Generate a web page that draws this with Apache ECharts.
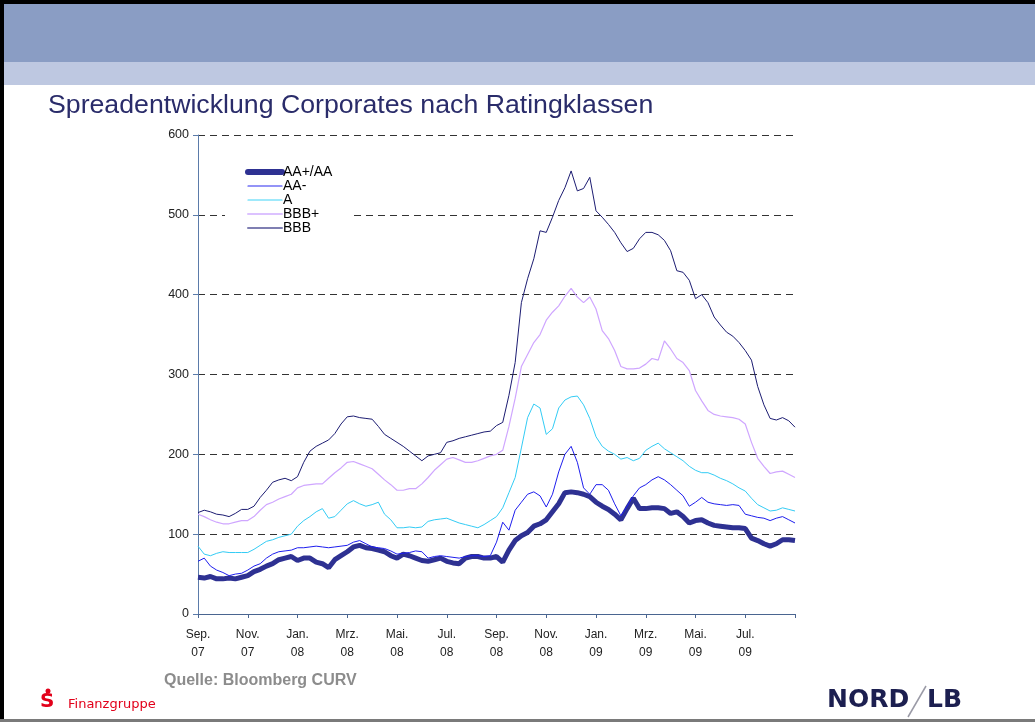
<!DOCTYPE html>
<html>
<head>
<meta charset="utf-8">
<script src="https://cdn.jsdelivr.net/npm/echarts@6/dist/echarts.min.js"></script>
<style>
  html, body { margin: 0; padding: 0; background: #fff; }
  #main { width: 1035px; height: 722px; }
</style>
</head>
<body>
<div id="main"></div>
<script>
// Tick labels, one every two months (last tick has no label)
var tickLabels = ['Sep.\n07', 'Nov.\n07', 'Jan.\n08', 'Mrz.\n08', 'Mai.\n08', 'Jul.\n08',
    'Sep.\n08', 'Nov.\n08', 'Jan.\n09', 'Mrz.\n09', 'Mai.\n09', 'Jul.\n09', ''];

// Months of the period, four observations per month (Sep 07 .. Sep 09)
var months = ['2007-09', '2007-10', '2007-11', '2007-12', '2008-01', '2008-02', '2008-03',
    '2008-04', '2008-05', '2008-06', '2008-07', '2008-08', '2008-09', '2008-10', '2008-11',
    '2008-12', '2009-01', '2009-02', '2009-03', '2009-04', '2009-05', '2009-06', '2009-07',
    '2009-08', '2009-09'];

var legendNames = ['AA+/AA', 'AA-', 'A', 'BBB+', 'BBB'];

// Spreads in basis points
var aaPlus = [46, 45, 47, 44, 44, 45, 44, 46, 48, 53, 56, 60, 63, 68, 70, 72,
    67, 70, 70, 65, 63, 58, 68, 73, 78, 84, 86, 83, 82, 80, 78, 73,
    70, 75, 73, 70, 67, 66, 68, 70, 66, 64, 63, 70, 72, 72, 70, 70,
    72, 65, 80, 92, 98, 102, 110, 113, 118, 128, 138, 152, 153, 152, 150, 147,
    140, 135, 131, 125, 118, 132, 145, 132, 132, 133, 133, 132, 126, 128, 122, 114,
    117, 118, 114, 111, 110, 109, 108, 108, 107, 95, 92, 88, 85, 88, 93, 93, 92];

var aaMinus = [66, 70, 60, 55, 52, 48, 50, 51, 55, 60, 63, 70, 75, 78, 79, 80,
    83, 83, 84, 85, 84, 83, 84, 85, 86, 90, 92, 88, 84, 83, 82, 79,
    75, 76, 77, 79, 78, 70, 72, 73, 72, 71, 70, 72, 73, 73, 72, 73,
    90, 115, 105, 130, 140, 150, 153, 148, 134, 150, 178, 200, 210, 190, 158, 150,
    162, 162, 155, 138, 123, 135, 148, 158, 162, 168, 172, 168, 162, 155, 148, 135,
    140, 146, 140, 138, 137, 136, 137, 136, 125, 123, 121, 120, 117, 120, 122, 118, 114];

var ratingA = [85, 75, 73, 76, 78, 77, 77, 77, 77, 81, 86, 91, 93, 96, 98, 100,
    110, 117, 122, 128, 132, 120, 122, 130, 138, 142, 138, 135, 137, 140, 125, 118,
    108, 108, 109, 108, 109, 116, 118, 119, 120, 117, 114, 112, 110, 108, 112, 117,
    122, 133, 152, 171, 208, 246, 263, 258, 225, 232, 258, 268, 272, 273, 262, 245,
    222, 210, 204, 200, 194, 196, 192, 195, 205, 210, 214, 207, 202, 197, 192, 185,
    180, 177, 177, 174, 170, 167, 163, 158, 154, 145, 137, 133, 129, 130, 133, 131, 129];

var bbbPlus = [125, 122, 118, 115, 113, 113, 115, 117, 117, 122, 130, 137, 140, 144, 147, 150,
    158, 161, 162, 163, 163, 170, 177, 183, 190, 191, 188, 185, 182, 175, 168, 162,
    155, 155, 157, 157, 163, 171, 180, 187, 194, 196, 193, 190, 190, 192, 195, 198,
    200, 205, 235, 270, 310, 325, 340, 350, 368, 378, 386, 398, 408, 397, 390, 397,
    382, 355, 345, 330, 310, 307, 307, 308, 313, 320, 318, 342, 332, 320, 315, 305,
    280, 267, 255, 250, 248, 247, 246, 244, 238, 215, 195, 185, 176, 178, 179, 175, 171];

var bbb = [127, 130, 128, 125, 124, 122, 126, 131, 131, 135, 146, 155, 165, 168, 170, 167,
    172, 190, 204, 210, 214, 218, 226, 238, 247, 248, 246, 245, 244, 235, 225, 220,
    215, 210, 204, 198, 192, 198, 200, 202, 215, 217, 220, 222, 224, 226, 228, 229,
    236, 240, 274, 315, 390, 420, 445, 480, 478, 497, 518, 534, 555, 530, 533, 547,
    505, 497, 488, 478, 465, 454, 458, 470, 478, 478, 475, 468, 455, 430, 428, 418,
    395, 400, 390, 372, 362, 353, 348, 340, 330, 318, 285, 262, 245, 243, 246, 242, 234];

var colors = ['#2E3192', '#1E1EEE', '#33CCF5', '#CFA6FF', '#1C1C72'];
var legendColors = ['#2E3192', '#2A2AF0', '#40D4F8', '#DCC2FF', '#7F7FB2'];
var widths = [5, 1, 1, 1.2, 1];
var legendWidths = [6, 1.2, 1.2, 2, 2];

// category per observation: month + quarter
var categories = [];
months.forEach(function (m, i) {
    var n = i === months.length - 1 ? 1 : 4;
    for (var q = 1; q <= n; q++) {
        categories.push(m + '-' + q);
    }
});

var chart = echarts.init(document.getElementById('main'), null, { renderer: 'canvas' });

var seriesData = [aaPlus, aaMinus, ratingA, bbbPlus, bbb];
var series = [];
var legendData = [];
for (var s = 0; s < seriesData.length; s++) {
    series.push({
        name: legendNames[s],
        type: 'line',
        data: seriesData[s],
        symbol: 'none',
        color: colors[s],
        lineStyle: { width: widths[s], color: colors[s] },
        z: 3
    });
    legendData.push({
        name: legendNames[s],
        itemStyle: { opacity: 0 },
        lineStyle: { width: legendWidths[s], color: legendColors[s], cap: 'round' }
    });
}

var option = {
    animation: false,
    backgroundColor: '#fff',
    grid: { left: 198, right: 240, top: 135, bottom: 108, containLabel: false },
    legend: {
        data: legendData,
        orient: 'vertical',
        left: 225,
        top: 159,
        padding: [6, 20, 6, 20],
        backgroundColor: '#fff',
        itemWidth: 34,
        itemHeight: 10,
        itemGap: 0,
        z: 10,
        itemStyle: { opacity: 0 },
        textStyle: {
            fontFamily: 'Liberation Sans, Arial, sans-serif',
            fontSize: 14,
            lineHeight: 13,
            color: '#000',
            padding: [0, 0, 0, -4]
        }
    },
    xAxis: {
        type: 'category',
        data: categories,
        boundaryGap: false,
        axisLine: { lineStyle: { color: '#4A6590', width: 1 } },
        axisTick: { interval: 7, length: 4, lineStyle: { color: '#4A6590' } },
        axisLabel: {
            interval: 7,
            margin: 12,
            fontFamily: 'Liberation Sans, Arial, sans-serif',
            fontSize: 12,
            lineHeight: 18,
            color: '#222',
            formatter: function (value, index) {
                return tickLabels[Math.round(index / 8)] || '';
            }
        },
        splitLine: { show: false }
    },
    yAxis: {
        type: 'value',
        min: 0,
        max: 600,
        interval: 100,
        axisLine: { show: true, lineStyle: { color: '#5B7BAA', width: 1 } },
        axisTick: { show: true, length: 5, lineStyle: { color: '#5B7BAA' } },
        axisLabel: {
            margin: 9,
            fontFamily: 'Liberation Sans, Arial, sans-serif',
            fontSize: 12.5,
            color: '#222'
        },
        splitLine: {
            show: true,
            lineStyle: { color: '#333', width: 1, type: [7, 5] }
        }
    },
    series: series,
    graphic: [
        // page frame and header bands
        { type: 'rect', shape: { x: 0, y: 0, width: 1035, height: 4 }, style: { fill: '#000' }, z: 0 },
        { type: 'rect', shape: { x: 0, y: 0, width: 4, height: 722 }, style: { fill: '#000' }, z: 0 },
        { type: 'rect', shape: { x: 0, y: 719, width: 1035, height: 3 }, style: { fill: '#7A7A7A' }, z: 0 },
        { type: 'rect', shape: { x: 4, y: 4, width: 1031, height: 58 }, style: { fill: '#8A9DC4' }, z: 0 },
        { type: 'rect', shape: { x: 4, y: 62, width: 1031, height: 23 }, style: { fill: '#BEC8E1' }, z: 0 },
        {
            type: 'text', left: 48, top: 92, z: 5,
            style: {
                text: 'Spreadentwicklung Corporates nach Ratingklassen',
                fill: '#2A2C6A',
                font: '26.7px "Liberation Sans", Arial, sans-serif'
            }
        },
        {
            type: 'text', left: 164, top: 673, z: 5,
            style: {
                text: 'Quelle: Bloomberg CURV',
                fill: '#8C8C8C',
                font: 'bold 16px "Liberation Sans", Arial, sans-serif'
            }
        },
        // Sparkasse mark
        { type: 'circle', shape: { cx: 48, cy: 691, r: 2.5 }, style: { fill: '#E2001A' }, z: 5 },
        {
            type: 'text', left: 40, top: 692, z: 5,
            style: { text: 'S', fill: '#E2001A', font: 'bold 20px "DejaVu Sans", sans-serif' }
        },
        {
            type: 'text', left: 68, top: 698, z: 5,
            style: { text: 'Finanzgruppe', fill: '#E2001A', font: '13px "DejaVu Sans", sans-serif' }
        },
        // NORD/LB mark
        {
            type: 'text', left: 827, top: 688, z: 5,
            style: { text: 'NORD', fill: '#1C1F50', font: 'bold 25px "DejaVu Sans", sans-serif' }
        },
        {
            type: 'line', z: 5,
            shape: { x1: 908, y1: 717, x2: 926, y2: 686 },
            style: { stroke: '#9A9AA6', lineWidth: 1.5 }
        },
        {
            type: 'text', left: 927, top: 688, z: 5,
            style: { text: 'LB', fill: '#1C1F50', font: 'bold 25px "DejaVu Sans", sans-serif' }
        }
    ]
};

chart.setOption(option);
</script>
</body>
</html>
